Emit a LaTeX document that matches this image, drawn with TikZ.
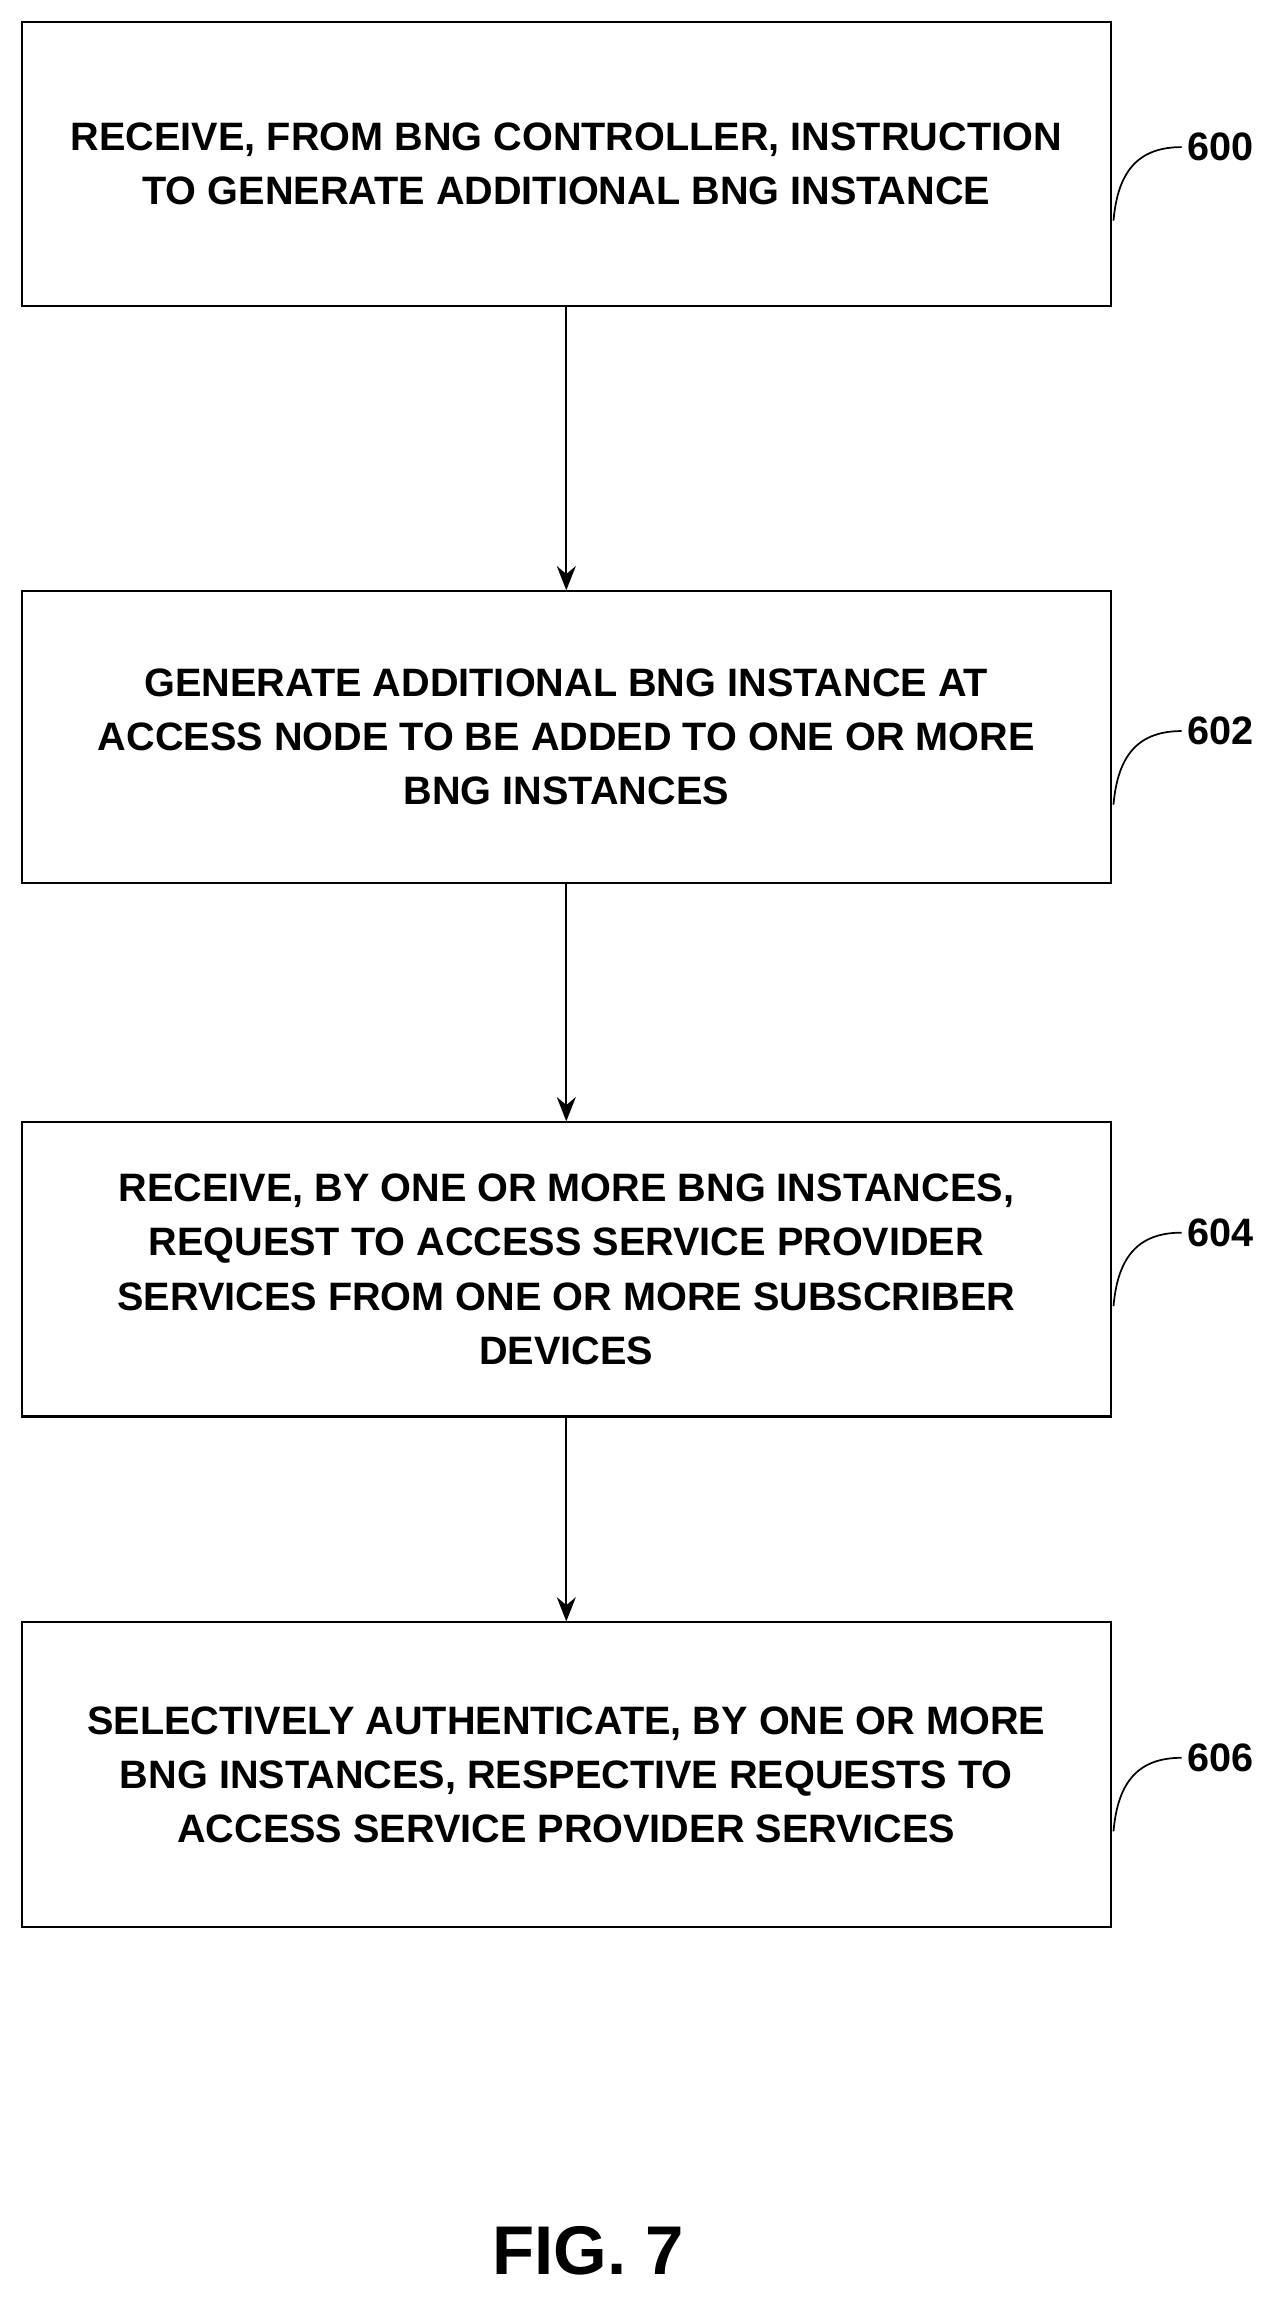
\documentclass[tikz,border=0pt]{standalone}
\usepackage{fontspec}
\setmainfont{Liberation Sans}
\usetikzlibrary{arrows.meta,positioning}

\begin{document}
\begin{tikzpicture}[x=0.03cm,y=-0.03cm,
    box/.style={draw,line width=1.2pt,minimum width=22.2cm,align=center,
      font=\fontsize{23}{31.5}\selectfont\bfseries},
    ref/.style={font=\fontsize{23}{28}\selectfont\bfseries},
    >={Stealth[length=14pt,width=11pt]}]
    \useasboundingbox (0,0) rectangle (864,1565);

    \node[box,minimum height=5.79cm] (s600) at (385,111.5) {RECEIVE, FROM BNG CONTROLLER, INSTRUCTION\\TO GENERATE ADDITIONAL BNG INSTANCE};
    \node[box,minimum height=5.94cm] (s602) at (385,501) {GENERATE ADDITIONAL BNG INSTANCE AT\\ACCESS NODE TO BE ADDED TO ONE OR MORE\\BNG INSTANCES};
    \node[box,minimum height=6cm] (s604) at (385,863) {RECEIVE, BY ONE OR MORE BNG INSTANCES,\\REQUEST TO ACCESS SERVICE PROVIDER\\SERVICES FROM ONE OR MORE SUBSCRIBER\\DEVICES};
    \node[box,minimum height=6.21cm] (s606) at (385,1206.5) {SELECTIVELY AUTHENTICATE, BY ONE OR MORE\\BNG INSTANCES, RESPECTIVE REQUESTS TO\\ACCESS SERVICE PROVIDER SERVICES};

    \draw[line width=1.2pt,->] (s600) -- (s602);
    \draw[line width=1.2pt,->] (s602) -- (s604);
    \draw[line width=1.2pt,->] (s604) -- (s606);

    % reference numerals
    \node[ref] (n600) at (830,100) {600};
    \node[ref] (n602) at (830,497) {602};
    \node[ref] (n604) at (830,838) {604};
    \node[ref] (n606) at (830,1195) {606};
    \foreach \n/\y in {600/100,602/497,604/838,606/1195}
      \draw[line width=1pt] (757,\y+50) .. controls (760,\y+15) and (775,\y) .. (n\n.west);

    \node[font=\fontsize{40}{44}\selectfont\bfseries] (fig) at (400,1530) {FIG. 7};
\end{tikzpicture}
\end{document}
